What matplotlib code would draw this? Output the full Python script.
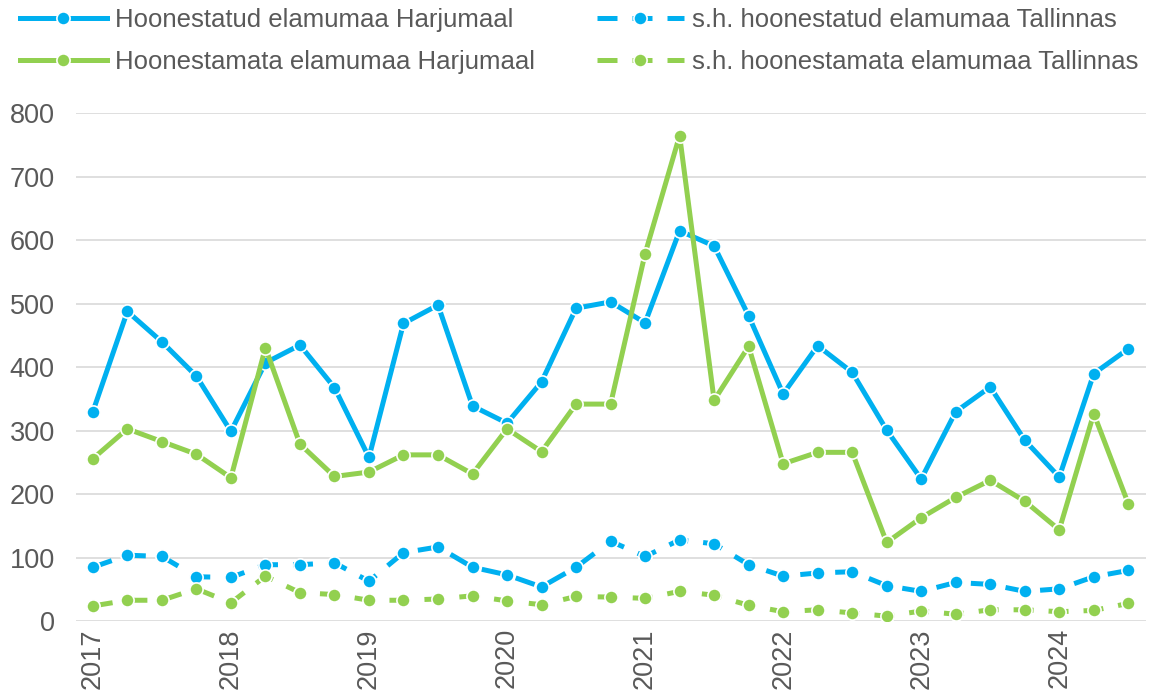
import numpy as np
import matplotlib
matplotlib.use("Agg")
import matplotlib.pyplot as plt

# quarterly values, 2017 Q1 .. 2024 Q3
years = ["2017", "2018", "2019", "2020", "2021", "2022", "2023", "2024"]
built_harju = [330, 488, 440, 386, 299, 407, 435, 368, 258, 469, 498, 339, 312, 377, 493, 503,
               470, 615, 591, 481, 358, 434, 392, 301, 224, 330, 369, 285, 227, 390, 429]
built_tln = [85, 104, 102, 70, 69, 89, 89, 92, 63, 108, 117, 85, 73, 54, 85, 126,
             102, 128, 122, 89, 71, 76, 78, 56, 47, 61, 58, 47, 51, 70, 80]
unbuilt_harju = [256, 303, 283, 263, 226, 431, 279, 228, 235, 262, 262, 232, 303, 267, 342, 342,
                 579, 765, 348, 433, 248, 266, 266, 124, 163, 195, 222, 189, 144, 327, 185]
unbuilt_tln = [24, 33, 33, 51, 29, 71, 45, 42, 33, 33, 35, 40, 32, 26, 39, 38,
               36, 47, 41, 25, 15, 18, 13, 8, 16, 11, 18, 18, 15, 17, 28]

labels = ["Hoonestatud elamumaa Harjumaal", "s.h. hoonestatud elamumaa Tallinnas",
          "Hoonestamata elamumaa Harjumaal", "s.h. hoonestamata elamumaa Tallinnas"]

BLUE = "#00B0F0"
GREEN = "#92D050"
TXT = "#595959"

plt.rcParams['font.family'] = ['Liberation Sans', 'DejaVu Sans']

fig = plt.figure(figsize=(11.63, 6.91), dpi=100)
ax = fig.add_axes([0.065, 0.101, 0.920, 0.735])

x = np.arange(len(built_harju))
mk = dict(marker='o', markersize=9.5, markeredgecolor='white', markeredgewidth=1.2, lw=3.6)

h1, = ax.plot(x, built_harju, color=BLUE, label=labels[0], **mk)
h2, = ax.plot(x, built_tln, color=BLUE, label=labels[1], dashes=(4, 3), **mk)
h3, = ax.plot(x, unbuilt_harju, color=GREEN, label=labels[2], **mk)
h4, = ax.plot(x, unbuilt_tln, color=GREEN, label=labels[3], dashes=(4, 3), **mk)

ax.set_xlim(-0.5, len(x) - 0.5)
ax.set_ylim(0, 800)
ax.set_yticks(range(0, 801, 100))
ax.set_xticks(np.arange(len(years)) * 4)
ax.set_xticklabels(years, rotation=90)

ax.grid(axis='y', color='#D9D9D9', lw=1.2)
ax.set_axisbelow(True)
for s in ax.spines.values():
    s.set_visible(False)
ax.tick_params(axis='both', length=0, labelsize=19.5, labelcolor=TXT)
ax.tick_params(axis='y', pad=15)
ax.tick_params(axis='x', pad=5)

fig.legend([h1, h3, h2, h4], [labels[0], labels[2], labels[1], labels[3]],
           loc='upper left', bbox_to_anchor=(0.017, 0.988), ncol=2, frameon=False,
           fontsize=18.5, handlelength=3.4, handletextpad=0.3, columnspacing=2.4,
           labelspacing=0.7, borderpad=0, borderaxespad=0, labelcolor=TXT)

fig.savefig("out.png", dpi=100)
